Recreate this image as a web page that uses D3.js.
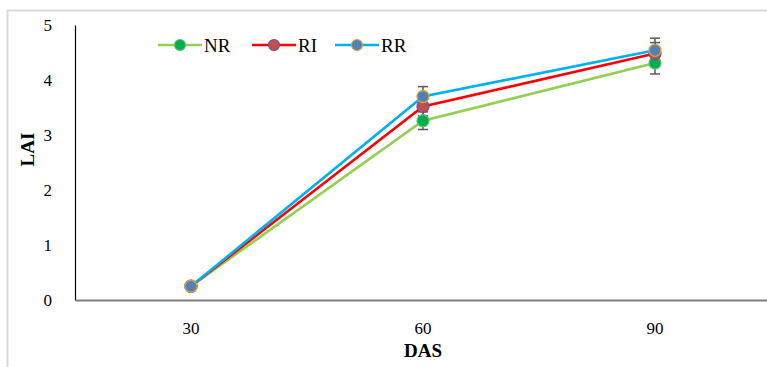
<!DOCTYPE html>
<html>
<head>
<meta charset="utf-8">
<script src="https://cdnjs.cloudflare.com/ajax/libs/d3/7.8.5/d3.min.js"></script>
<style>
  body { margin: 0; background: #fff; }
  text { font-family: "Liberation Serif", "Times New Roman", serif; }
</style>
</head>
<body>
<div id="chart"></div>
<script>
// data
var categories = ["30", "60", "90"];
var seriesNames = ["NR", "RI", "RR"];
var nrValues = [0.25, 3.26, 4.31];
var riValues = [0.25, 3.52, 4.48];
var rrValues = [0.25, 3.70, 4.54];
var nrErr = [0.02, 0.16, 0.20];
var riErr = [0.02, 0.17, 0.20];
var rrErr = [0.02, 0.18, 0.22];
var yTicks = [0, 1, 2, 3, 4, 5];

var lineColors = ["#92d050", "#ff0000", "#00b0f0"];
var fillColors = ["#00b050", "#c0504d", "#4f81bd"];
var strokeColors = ["#5fbf6f", "#7f4a9a", "#e0a030"];

var svgWidth = 767;
var svgHeight = 367;

var margin = { top: 25, right: -4, bottom: 67, left: 75 };
var width = svgWidth - margin.left - margin.right;
var height = svgHeight - margin.top - margin.bottom;

var svg = d3.select("#chart")
    .append("svg")
    .attr("width", svgWidth)
    .attr("height", svgHeight);

// outer chart frame (clipped on right / bottom like the picture)
svg.append("rect")
    .attr("x", 7.5)
    .attr("y", 10.5)
    .attr("width", 800)
    .attr("height", 400)
    .attr("fill", "none")
    .attr("stroke", "#d9d9d9")
    .attr("stroke-width", 2);

var chartGroup = svg.append("g")
    .attr("transform", `translate(${margin.left}, ${margin.top})`);

var xBand = d3.scaleBand()
    .domain(categories)
    .range([0, 696]);

var yLinear = d3.scaleLinear()
    .domain([0, 5])
    .range([height, 0]);

var xPos = d => xBand(d) + xBand.bandwidth() / 2;

// y axis
var leftAxis = d3.axisLeft(yLinear).tickValues(yTicks).tickFormat(d3.format("d"))
    .tickSize(0).tickPadding(23);
var yAxis = chartGroup.append("g").call(leftAxis);
yAxis.select(".domain").attr("stroke", "#000").attr("stroke-width", 1.2);
yAxis.selectAll("text").attr("font-size", 17).attr("fill", "#000")
    .style("font-family", "'Liberation Serif', serif");

// x axis
var bottomAxis = d3.axisBottom(xBand).tickSize(0).tickPadding(22);
var xAxis = chartGroup.append("g")
    .attr("transform", `translate(0, ${height})`)
    .call(bottomAxis);
xAxis.select(".domain").attr("stroke", "#7f7f7f").attr("stroke-width", 2);
xAxis.selectAll("text").attr("font-size", 17).attr("fill", "#000")
    .style("font-family", "'Liberation Serif', serif");

// axis titles
chartGroup.append("text")
    .attr("transform", "rotate(-90)")
    .attr("x", -(height / 2) + 13)
    .attr("y", -41)
    .attr("text-anchor", "middle")
    .attr("font-size", 19)
    .attr("font-weight", "bold")
    .text("LAI");

chartGroup.append("text")
    .attr("x", xPos("60"))
    .attr("y", height + 57)
    .attr("text-anchor", "middle")
    .attr("font-size", 19)
    .attr("font-weight", "bold")
    .text("DAS");

var allValues = [nrValues, riValues, rrValues];
var allErr = [nrErr, riErr, rrErr];

var line = d3.line()
    .x((d, i) => xPos(categories[i]))
    .y(d => yLinear(d));

// error bars first (behind)
allValues.forEach(function (vals, s) {
    var eg = chartGroup.append("g").attr("stroke", "#595959").attr("stroke-width", 1.5);
    vals.forEach(function (v, i) {
        var x = xPos(categories[i]);
        var e = allErr[s][i];
        eg.append("line").attr("x1", x).attr("x2", x)
            .attr("y1", yLinear(v - e)).attr("y2", yLinear(v + e));
        [v - e, v + e].forEach(function (c) {
            eg.append("line").attr("x1", x - 5).attr("x2", x + 5)
                .attr("y1", yLinear(c)).attr("y2", yLinear(c));
        });
    });
});

// lines and markers
allValues.forEach(function (vals, s) {
    chartGroup.append("path")
        .datum(vals)
        .attr("d", line)
        .attr("fill", "none")
        .attr("stroke", lineColors[s])
        .attr("stroke-width", 2.6);
});
allValues.forEach(function (vals, s) {
    chartGroup.selectAll(".pt" + s)
        .data(vals)
        .enter()
        .append("circle")
        .attr("cx", (d, i) => xPos(categories[i]))
        .attr("cy", d => yLinear(d))
        .attr("r", 6)
        .attr("fill", fillColors[s])
        .attr("stroke", strokeColors[s])
        .attr("stroke-width", 1.3);
});

// legend
var legendX = [158, 252, 335];
var legend = svg.append("g");
seriesNames.forEach(function (name, s) {
    var g = legend.append("g").attr("transform", `translate(${legendX[s]}, 45)`);
    g.append("line").attr("x1", 0).attr("x2", 44).attr("y1", 0).attr("y2", 0)
        .attr("stroke", lineColors[s]).attr("stroke-width", 2.6);
    g.append("circle").attr("cx", 22).attr("cy", 0).attr("r", 5.5)
        .attr("fill", fillColors[s]).attr("stroke", strokeColors[s]).attr("stroke-width", 1.2);
    g.append("text").attr("x", 46).attr("y", 6.5)
        .attr("font-size", 19).attr("fill", "#000").text(name);
});
</script>
</body>
</html>
